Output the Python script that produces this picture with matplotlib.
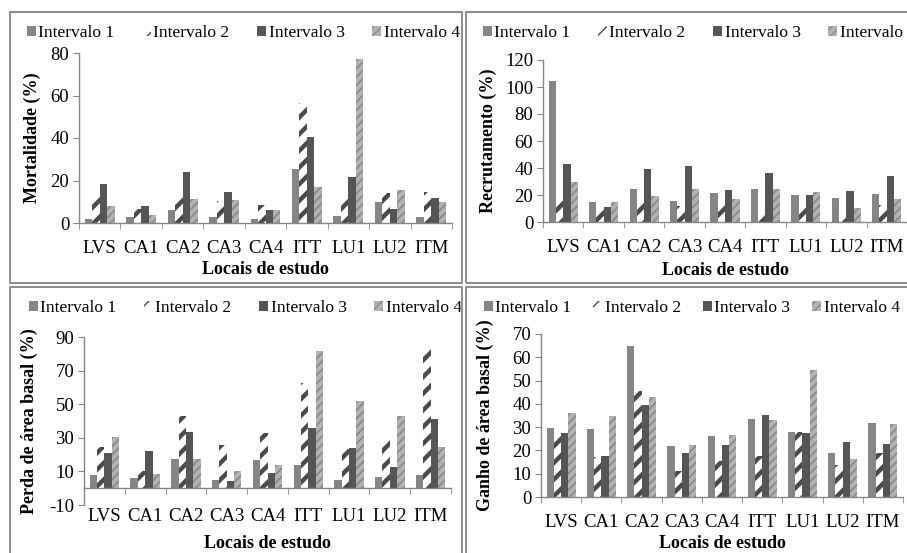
import matplotlib.pyplot as plt
import numpy as np
from matplotlib.patches import Rectangle

plt.rcParams["font.family"] = ["Liberation Serif", "DejaVu Serif"]
plt.rcParams["font.size"] = 10.5
plt.rcParams["axes.unicode_minus"] = False

W, H = 907, 553

sites = ["LVS", "CA1", "CA2", "CA3", "CA4", "ITT", "LU1", "LU2", "ITM"]
series_names = ["Intervalo 1", "Intervalo 2", "Intervalo 3", "Intervalo 4"]

# Mortalidade (%)
mort_1 = [1.9, 2.7, 6.0, 2.8, 2.0, 25.4, 3.3, 9.9, 2.8]
mort_2 = [12.5, 6.6, 13.3, 10.5, 8.5, 56.5, 12.5, 14.1, 14.6]
mort_3 = [18.3, 7.8, 23.8, 14.4, 6.3, 40.3, 21.5, 6.7, 11.8]
mort_4 = [8.2, 3.6, 11.5, 11.0, 6.1, 16.9, 77.2, 15.7, 9.9]

# Recrutamento (%)
recr_1 = [104.4, 14.6, 24.3, 15.8, 21.5, 24.3, 19.8, 17.6, 21.0]
recr_2 = [18.6, 11.1, 15.3, 11.9, 13.1, 5.0, 11.4, 5.9, 12.9]
recr_3 = [42.8, 10.9, 39.4, 41.3, 24.0, 36.4, 19.8, 23.0, 34.2]
recr_4 = [29.7, 15.1, 19.6, 24.3, 16.8, 24.8, 22.5, 10.4, 17.3]

# Perda de area basal (%)
perda_1 = [7.8, 5.9, 17.3, 4.9, 16.7, 13.7, 5.1, 6.9, 7.8]
perda_2 = [24.5, 10.2, 43.1, 25.5, 32.9, 62.7, 23.1, 28.8, 83.3]
perda_3 = [21.2, 22.2, 33.3, 4.3, 9.2, 35.9, 24.1, 12.4, 41.0]
perda_4 = [30.4, 8.4, 17.1, 10.0, 13.7, 81.6, 52.0, 42.9, 24.3]

# Ganho de area basal (%)
ganho_1 = [29.8, 29.1, 64.8, 21.7, 26.1, 33.3, 28.0, 18.7, 31.7]
ganho_2 = [28.1, 17.1, 45.6, 11.3, 15.4, 17.5, 27.7, 13.8, 19.1]
ganho_3 = [27.3, 17.4, 39.6, 18.9, 22.2, 35.3, 27.3, 23.7, 22.7]
ganho_4 = [36.0, 34.9, 42.8, 22.5, 26.8, 33.0, 54.4, 16.4, 31.3]

# bar styles: (face, hatch colour, hatch, hatch linewidth)
styles = [
    ("#858585", "#858585", None, 1.0),
    ("white", "#4a4a4a", "//", 3.2),
    ("#555555", "#555555", None, 1.0),
    ("#b2b2b2", "#8a8a8a", "////", 1.3),
]

fig = plt.figure(figsize=(W / 100, H / 100), dpi=100)


def frac_rect(x0, y0, x1, y1):
    # pixel box (top-left origin) -> figure fraction [l, b, w, h]
    return [x0 / W, 1 - y1 / H, (x1 - x0) / W, (y1 - y0) / H]


# panel frames
for x0, y0, x1, y1 in [(10, 12, 462, 283), (466, 12, 912, 283),
                       (10, 287, 462, 558), (466, 287, 912, 558)]:
    fig.patches.append(Rectangle((x0 / W, 1 - y1 / H), (x1 - x0) / W, (y1 - y0) / H,
                                 transform=fig.transFigure, fill=False,
                                 edgecolor="#8c8c8c", lw=1.4))


def panel(box, data, ylim, yticks, ylabel, ylab_x, xlab_y, legend_x, legend_y,
          colsp=1.6, neg=False):
    ax = fig.add_axes(frac_rect(*box))
    x = np.arange(len(sites))
    bw = 0.18
    handles = []
    for i, vals in enumerate(data):
        face, hcol, hatch, hlw = styles[i]
        with plt.rc_context({"hatch.linewidth": hlw}):
            b = ax.bar(x + (i - 1.5) * bw, vals, bw, color=face, edgecolor=hcol,
                       hatch=hatch, linewidth=0, label=series_names[i])
        for p in b.patches:
            if hasattr(p, "set_hatch_linewidth"):
                p.set_hatch_linewidth(hlw)
        handles.append(b)
    ax.set_xlim(-0.5, len(sites) - 0.5)
    ax.set_ylim(*ylim)
    ax.set_yticks(yticks)
    for s in ["top", "right"]:
        ax.spines[s].set_visible(False)
    for s in ["left", "bottom"]:
        ax.spines[s].set_color("#868686")
        ax.spines[s].set_linewidth(1.0)
    if neg:
        ax.spines["bottom"].set_position(("data", 0))
    ax.set_xticks(x)
    ax.set_xticklabels(sites)
    ax.set_xticks(np.arange(-0.5, len(sites)), minor=True)
    pad = 14 if neg else 12
    ax.tick_params(axis="x", which="major", length=0, pad=pad, labelsize=13.5)
    ax.tick_params(axis="x", which="minor", length=4, color="#868686", direction="out")
    ax.tick_params(axis="y", length=4, color="#868686", labelsize=13.5, pad=3)
    ax.set_xlabel("Locais de estudo", fontweight="bold", fontsize=13)
    ax.xaxis.set_label_coords(0.5, (box[3] - xlab_y) / (box[3] - box[1]))
    ax.xaxis.label.set_va("center")
    ax.set_ylabel(ylabel, fontweight="bold", fontsize=13)
    ax.yaxis.set_label_coords((ylab_x - box[0]) / (box[2] - box[0]), 0.5)
    ax.legend(handles=handles, ncol=4, loc="center left", frameon=False,
              bbox_to_anchor=((legend_x - box[0]) / (box[2] - box[0]),
                              (box[3] - legend_y) / (box[3] - box[1])),
              handlelength=0.5, handleheight=0.5, handletextpad=0.15,
              columnspacing=colsp, fontsize=12.5, borderaxespad=0, borderpad=0)
    return ax


# boxes: (left, top, right, bottom) in pixels
panel((79, 53, 452, 223), [mort_1, mort_2, mort_3, mort_4], (0, 80),
      [0, 20, 40, 60, 80], "Mortalidade (%)", 41.5, 270, 27, 33)
panel((543, 60, 907, 222), [recr_1, recr_2, recr_3, recr_4], (0, 120),
      [0, 20, 40, 60, 80, 100, 120], "Recrutamento (%)", 497, 270, 483, 33)
panel((84, 337, 451, 505), [perda_1, perda_2, perda_3, perda_4], (-10, 90),
      [-10, 10, 30, 50, 70, 90], "Perda de área basal (%)", 38.5, 543, 29, 308,
      neg=True)
panel((541, 334, 903, 497), [ganho_1, ganho_2, ganho_3, ganho_4], (0, 70),
      [0, 10, 20, 30, 40, 50, 60, 70], "Ganho de área basal (%)", 494, 543, 484, 308,
      colsp=1.27)

fig.savefig("out.png", dpi=100)
